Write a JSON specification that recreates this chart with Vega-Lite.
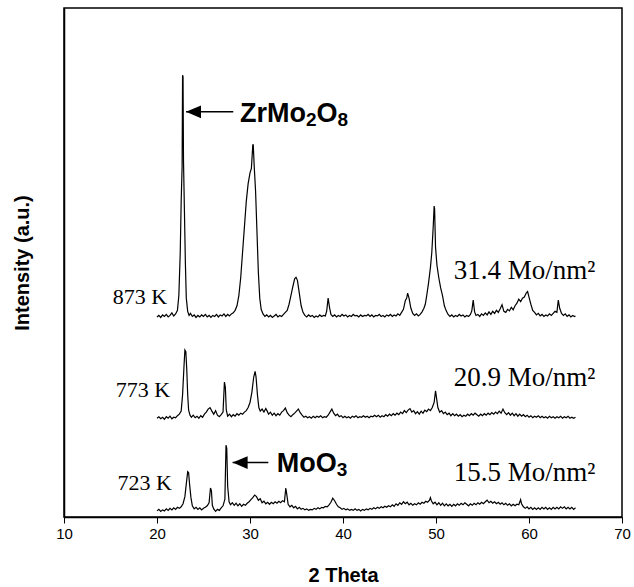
{
  "$schema": "https://vega.github.io/schema/vega-lite/v6.json",
  "width": 558,
  "height": 509,
  "autosize": "none",
  "padding": {"left": 64, "top": 8, "right": 12, "bottom": 70},
  "background": "white",
  "config": {
    "view": {"stroke": "black", "strokeWidth": 1.5},
    "axis": {"grid": false, "domainColor": "black", "domainWidth": 1.5, "tickColor": "black", "labelColor": "black", "titleColor": "black", "labelFont": "Liberation Sans", "titleFont": "Liberation Sans"}
  },
  "datasets": {
    "k873": [
      {"t":20.0,"i":39.3},{"t":20.2,"i":39.6},{"t":20.4,"i":39.2},{"t":20.6,"i":39.7},{"t":20.8,"i":39.4},{"t":21.0,"i":39.8},{"t":21.2,"i":39.3},{"t":21.4,"i":39.6},{"t":21.6,"i":40.1},{"t":21.8,"i":39.5},{"t":22.0,"i":39.9},{"t":22.2,"i":40.6},{"t":22.35,"i":43.5},{"t":22.5,"i":52.0},{"t":22.6,"i":62.0},{"t":22.7,"i":68.8},{"t":22.75,"i":86.8},{"t":22.8,"i":86.5},{"t":22.85,"i":70.0},{"t":22.95,"i":60.0},{"t":23.05,"i":50.0},{"t":23.15,"i":43.0},{"t":23.3,"i":40.4},{"t":23.45,"i":39.6},{"t":23.6,"i":40.0},{"t":23.8,"i":39.4},{"t":24.0,"i":39.7},{"t":24.2,"i":39.2},{"t":24.4,"i":39.6},{"t":24.6,"i":39.3},{"t":24.8,"i":39.7},{"t":25.0,"i":39.4},{"t":25.2,"i":39.8},{"t":25.4,"i":39.3},{"t":25.6,"i":39.6},{"t":25.8,"i":39.2},{"t":26.0,"i":39.6},{"t":26.2,"i":39.4},{"t":26.4,"i":39.8},{"t":26.6,"i":39.3},{"t":26.8,"i":39.7},{"t":27.0,"i":39.5},{"t":27.2,"i":39.9},{"t":27.4,"i":39.4},{"t":27.6,"i":39.8},{"t":27.8,"i":39.5},{"t":28.0,"i":39.9},{"t":28.2,"i":40.1},{"t":28.4,"i":40.6},{"t":28.6,"i":41.5},{"t":28.8,"i":43.5},{"t":29.0,"i":47.0},{"t":29.2,"i":52.0},{"t":29.4,"i":57.0},{"t":29.6,"i":62.0},{"t":29.8,"i":65.5},{"t":30.0,"i":67.6},{"t":30.15,"i":68.5},{"t":30.3,"i":73.1},{"t":30.35,"i":73.1},{"t":30.45,"i":69.0},{"t":30.6,"i":64.0},{"t":30.75,"i":56.0},{"t":30.9,"i":48.0},{"t":31.05,"i":43.0},{"t":31.2,"i":40.8},{"t":31.4,"i":39.9},{"t":31.6,"i":39.4},{"t":31.8,"i":39.7},{"t":32.0,"i":39.3},{"t":32.2,"i":39.6},{"t":32.4,"i":39.2},{"t":32.6,"i":39.5},{"t":32.8,"i":39.8},{"t":33.0,"i":39.3},{"t":33.2,"i":39.6},{"t":33.4,"i":39.4},{"t":33.6,"i":39.8},{"t":33.8,"i":40.2},{"t":34.0,"i":40.6},{"t":34.2,"i":41.8},{"t":34.4,"i":43.5},{"t":34.6,"i":45.2},{"t":34.8,"i":46.8},{"t":34.95,"i":47.1},{"t":35.1,"i":46.5},{"t":35.3,"i":44.0},{"t":35.5,"i":41.5},{"t":35.7,"i":40.2},{"t":35.9,"i":39.6},{"t":36.1,"i":39.3},{"t":36.3,"i":39.7},{"t":36.5,"i":39.4},{"t":36.7,"i":39.6},{"t":36.9,"i":39.2},{"t":37.1,"i":39.5},{"t":37.3,"i":39.3},{"t":37.5,"i":39.7},{"t":37.7,"i":39.4},{"t":37.9,"i":39.6},{"t":38.1,"i":39.5},{"t":38.25,"i":40.5},{"t":38.4,"i":43.0},{"t":38.55,"i":41.2},{"t":38.7,"i":39.8},{"t":38.9,"i":39.4},{"t":39.1,"i":39.7},{"t":39.3,"i":39.3},{"t":39.5,"i":39.6},{"t":39.7,"i":39.4},{"t":39.9,"i":39.8},{"t":40.1,"i":39.5},{"t":40.3,"i":39.7},{"t":40.5,"i":39.3},{"t":40.7,"i":39.6},{"t":40.9,"i":39.4},{"t":41.1,"i":39.8},{"t":41.3,"i":39.5},{"t":41.5,"i":39.6},{"t":41.7,"i":39.3},{"t":41.9,"i":39.7},{"t":42.1,"i":39.4},{"t":42.3,"i":39.6},{"t":42.5,"i":39.5},{"t":42.7,"i":39.8},{"t":42.9,"i":39.4},{"t":43.1,"i":39.7},{"t":43.3,"i":39.3},{"t":43.5,"i":39.6},{"t":43.7,"i":39.5},{"t":43.9,"i":39.8},{"t":44.1,"i":39.4},{"t":44.3,"i":39.6},{"t":44.5,"i":39.3},{"t":44.7,"i":39.7},{"t":44.9,"i":39.5},{"t":45.1,"i":39.8},{"t":45.3,"i":39.4},{"t":45.5,"i":39.7},{"t":45.7,"i":39.5},{"t":45.9,"i":39.9},{"t":46.1,"i":39.6},{"t":46.3,"i":40.2},{"t":46.5,"i":40.8},{"t":46.7,"i":42.5},{"t":46.85,"i":43.0},{"t":46.95,"i":44.0},{"t":47.1,"i":43.0},{"t":47.3,"i":41.0},{"t":47.5,"i":40.0},{"t":47.7,"i":39.6},{"t":47.9,"i":39.9},{"t":48.1,"i":39.5},{"t":48.3,"i":39.8},{"t":48.5,"i":40.3},{"t":48.7,"i":41.0},{"t":48.85,"i":41.8},{"t":49.0,"i":43.5},{"t":49.2,"i":46.0},{"t":49.4,"i":49.0},{"t":49.55,"i":52.0},{"t":49.7,"i":57.0},{"t":49.8,"i":61.1},{"t":49.85,"i":60.5},{"t":49.95,"i":53.0},{"t":50.1,"i":49.5},{"t":50.3,"i":47.0},{"t":50.5,"i":45.0},{"t":50.7,"i":43.5},{"t":50.9,"i":41.5},{"t":51.1,"i":40.5},{"t":51.3,"i":39.8},{"t":51.5,"i":39.4},{"t":51.7,"i":39.7},{"t":51.9,"i":39.3},{"t":52.1,"i":39.6},{"t":52.3,"i":39.4},{"t":52.5,"i":39.8},{"t":52.7,"i":39.5},{"t":52.9,"i":39.7},{"t":53.1,"i":39.3},{"t":53.3,"i":39.6},{"t":53.5,"i":39.4},{"t":53.7,"i":39.8},{"t":53.85,"i":40.5},{"t":54.0,"i":42.6},{"t":54.15,"i":40.3},{"t":54.3,"i":39.6},{"t":54.5,"i":39.8},{"t":54.7,"i":39.4},{"t":54.9,"i":39.9},{"t":55.1,"i":39.6},{"t":55.3,"i":40.1},{"t":55.5,"i":39.7},{"t":55.7,"i":40.3},{"t":55.9,"i":39.8},{"t":56.1,"i":40.4},{"t":56.3,"i":40.0},{"t":56.5,"i":40.6},{"t":56.7,"i":40.2},{"t":56.9,"i":40.9},{"t":57.1,"i":41.7},{"t":57.3,"i":40.4},{"t":57.5,"i":40.2},{"t":57.7,"i":40.8},{"t":57.9,"i":40.5},{"t":58.1,"i":41.2},{"t":58.3,"i":40.7},{"t":58.5,"i":41.5},{"t":58.7,"i":42.0},{"t":58.9,"i":42.8},{"t":59.1,"i":42.3},{"t":59.3,"i":43.0},{"t":59.5,"i":43.2},{"t":59.7,"i":44.0},{"t":59.85,"i":44.3},{"t":60.0,"i":43.2},{"t":60.2,"i":41.8},{"t":60.4,"i":40.6},{"t":60.6,"i":40.2},{"t":60.8,"i":39.7},{"t":61.0,"i":40.0},{"t":61.2,"i":39.5},{"t":61.4,"i":39.8},{"t":61.6,"i":39.4},{"t":61.8,"i":39.7},{"t":62.0,"i":39.5},{"t":62.2,"i":39.9},{"t":62.4,"i":39.6},{"t":62.6,"i":40.0},{"t":62.8,"i":40.4},{"t":63.0,"i":40.2},{"t":63.15,"i":42.6},{"t":63.3,"i":41.0},{"t":63.5,"i":40.0},{"t":63.7,"i":39.6},{"t":63.9,"i":39.9},{"t":64.1,"i":39.4},{"t":64.3,"i":39.7},{"t":64.5,"i":39.3},{"t":64.7,"i":39.6},{"t":64.9,"i":39.4},{"t":65.0,"i":39.5}
    ],
    "k773": [
      {"t":20.0,"i":19.4},{"t":20.2,"i":19.7},{"t":20.4,"i":19.3},{"t":20.6,"i":19.6},{"t":20.8,"i":19.2},{"t":21.0,"i":19.7},{"t":21.2,"i":19.4},{"t":21.4,"i":19.8},{"t":21.6,"i":19.3},{"t":21.8,"i":19.6},{"t":22.0,"i":19.5},{"t":22.2,"i":19.9},{"t":22.4,"i":20.2},{"t":22.6,"i":20.8},{"t":22.75,"i":24.0},{"t":22.9,"i":29.5},{"t":23.0,"i":32.8},{"t":23.1,"i":32.5},{"t":23.2,"i":29.0},{"t":23.3,"i":24.0},{"t":23.4,"i":21.0},{"t":23.55,"i":20.0},{"t":23.7,"i":19.6},{"t":23.9,"i":20.0},{"t":24.1,"i":19.5},{"t":24.3,"i":19.8},{"t":24.5,"i":19.4},{"t":24.7,"i":19.9},{"t":24.9,"i":19.6},{"t":25.1,"i":20.2},{"t":25.3,"i":20.6},{"t":25.5,"i":21.2},{"t":25.7,"i":21.5},{"t":25.9,"i":20.8},{"t":26.1,"i":20.2},{"t":26.3,"i":20.9},{"t":26.5,"i":20.0},{"t":26.7,"i":19.7},{"t":26.9,"i":20.1},{"t":27.1,"i":20.6},{"t":27.25,"i":26.5},{"t":27.35,"i":25.5},{"t":27.45,"i":21.0},{"t":27.6,"i":19.8},{"t":27.8,"i":20.2},{"t":28.0,"i":19.7},{"t":28.2,"i":20.1},{"t":28.4,"i":19.8},{"t":28.6,"i":20.3},{"t":28.8,"i":20.0},{"t":29.0,"i":20.4},{"t":29.2,"i":20.2},{"t":29.4,"i":20.6},{"t":29.6,"i":20.9},{"t":29.8,"i":21.5},{"t":30.0,"i":22.5},{"t":30.2,"i":24.5},{"t":30.4,"i":27.5},{"t":30.55,"i":28.6},{"t":30.65,"i":27.5},{"t":30.8,"i":24.0},{"t":30.95,"i":21.5},{"t":31.1,"i":20.8},{"t":31.3,"i":21.2},{"t":31.5,"i":20.6},{"t":31.7,"i":21.3},{"t":31.85,"i":20.8},{"t":32.0,"i":20.2},{"t":32.2,"i":20.6},{"t":32.4,"i":20.0},{"t":32.6,"i":20.4},{"t":32.8,"i":19.9},{"t":33.0,"i":20.3},{"t":33.2,"i":20.0},{"t":33.4,"i":20.6},{"t":33.6,"i":20.9},{"t":33.8,"i":21.4},{"t":34.0,"i":20.5},{"t":34.2,"i":20.0},{"t":34.4,"i":19.7},{"t":34.6,"i":20.1},{"t":34.8,"i":20.4},{"t":35.0,"i":20.8},{"t":35.2,"i":21.2},{"t":35.4,"i":20.5},{"t":35.6,"i":20.0},{"t":35.8,"i":19.6},{"t":36.0,"i":19.8},{"t":36.2,"i":19.5},{"t":36.4,"i":19.7},{"t":36.6,"i":19.4},{"t":36.8,"i":19.8},{"t":37.0,"i":19.5},{"t":37.2,"i":19.8},{"t":37.4,"i":19.6},{"t":37.6,"i":19.9},{"t":37.8,"i":19.5},{"t":38.0,"i":19.7},{"t":38.2,"i":19.6},{"t":38.4,"i":20.0},{"t":38.6,"i":20.6},{"t":38.8,"i":21.2},{"t":39.0,"i":20.4},{"t":39.2,"i":19.9},{"t":39.4,"i":20.2},{"t":39.6,"i":19.7},{"t":39.8,"i":19.9},{"t":40.0,"i":19.5},{"t":40.2,"i":19.8},{"t":40.4,"i":19.5},{"t":40.6,"i":19.7},{"t":40.8,"i":19.4},{"t":41.0,"i":19.8},{"t":41.2,"i":19.6},{"t":41.4,"i":19.9},{"t":41.6,"i":19.5},{"t":41.8,"i":19.7},{"t":42.0,"i":19.6},{"t":42.2,"i":19.9},{"t":42.4,"i":19.6},{"t":42.6,"i":19.8},{"t":42.8,"i":19.5},{"t":43.0,"i":19.8},{"t":43.2,"i":19.7},{"t":43.4,"i":20.0},{"t":43.6,"i":19.7},{"t":43.8,"i":20.0},{"t":44.0,"i":19.6},{"t":44.2,"i":19.9},{"t":44.4,"i":19.7},{"t":44.6,"i":20.1},{"t":44.8,"i":19.8},{"t":45.0,"i":20.2},{"t":45.2,"i":19.9},{"t":45.4,"i":20.3},{"t":45.6,"i":20.0},{"t":45.8,"i":20.4},{"t":46.0,"i":20.1},{"t":46.2,"i":20.6},{"t":46.4,"i":20.3},{"t":46.6,"i":20.9},{"t":46.8,"i":20.5},{"t":47.0,"i":21.0},{"t":47.2,"i":21.3},{"t":47.4,"i":20.6},{"t":47.6,"i":20.9},{"t":47.8,"i":20.3},{"t":48.0,"i":20.7},{"t":48.2,"i":20.2},{"t":48.4,"i":20.8},{"t":48.6,"i":20.4},{"t":48.8,"i":21.0},{"t":49.0,"i":20.7},{"t":49.2,"i":21.2},{"t":49.4,"i":20.9},{"t":49.6,"i":21.5},{"t":49.8,"i":22.5},{"t":49.95,"i":24.8},{"t":50.05,"i":23.5},{"t":50.2,"i":21.5},{"t":50.4,"i":20.6},{"t":50.6,"i":20.9},{"t":50.8,"i":20.3},{"t":51.0,"i":20.6},{"t":51.2,"i":20.1},{"t":51.4,"i":20.4},{"t":51.6,"i":19.9},{"t":51.8,"i":20.3},{"t":52.0,"i":19.9},{"t":52.2,"i":20.2},{"t":52.4,"i":19.8},{"t":52.6,"i":20.1},{"t":52.8,"i":19.7},{"t":53.0,"i":20.0},{"t":53.2,"i":19.8},{"t":53.4,"i":20.2},{"t":53.6,"i":19.9},{"t":53.8,"i":20.3},{"t":54.0,"i":20.0},{"t":54.2,"i":20.4},{"t":54.4,"i":20.1},{"t":54.6,"i":19.8},{"t":54.8,"i":20.2},{"t":55.0,"i":19.9},{"t":55.2,"i":20.3},{"t":55.4,"i":20.0},{"t":55.6,"i":20.4},{"t":55.8,"i":20.1},{"t":56.0,"i":20.5},{"t":56.2,"i":20.2},{"t":56.4,"i":20.6},{"t":56.6,"i":20.3},{"t":56.8,"i":20.8},{"t":57.0,"i":20.4},{"t":57.2,"i":21.2},{"t":57.4,"i":20.5},{"t":57.6,"i":20.1},{"t":57.8,"i":20.5},{"t":58.0,"i":20.0},{"t":58.2,"i":20.4},{"t":58.4,"i":19.9},{"t":58.6,"i":20.3},{"t":58.8,"i":19.8},{"t":59.0,"i":20.2},{"t":59.2,"i":19.8},{"t":59.4,"i":20.1},{"t":59.6,"i":19.7},{"t":59.8,"i":20.0},{"t":60.0,"i":19.6},{"t":60.2,"i":19.9},{"t":60.4,"i":19.5},{"t":60.6,"i":19.8},{"t":60.8,"i":19.6},{"t":61.0,"i":19.9},{"t":61.2,"i":19.5},{"t":61.4,"i":19.8},{"t":61.6,"i":19.5},{"t":61.8,"i":19.7},{"t":62.0,"i":19.4},{"t":62.2,"i":19.8},{"t":62.4,"i":19.5},{"t":62.6,"i":19.7},{"t":62.8,"i":19.4},{"t":63.0,"i":19.7},{"t":63.2,"i":19.5},{"t":63.4,"i":19.8},{"t":63.6,"i":19.4},{"t":63.8,"i":19.7},{"t":64.0,"i":19.5},{"t":64.2,"i":19.8},{"t":64.4,"i":19.4},{"t":64.6,"i":19.6},{"t":64.8,"i":19.4},{"t":65.0,"i":19.6}
    ],
    "k723": [
      {"t":20.0,"i":1.2},{"t":20.2,"i":1.5},{"t":20.4,"i":1.1},{"t":20.6,"i":1.4},{"t":20.8,"i":1.2},{"t":21.0,"i":1.6},{"t":21.2,"i":1.3},{"t":21.4,"i":1.7},{"t":21.6,"i":1.4},{"t":21.8,"i":1.8},{"t":22.0,"i":1.5},{"t":22.2,"i":1.9},{"t":22.4,"i":1.7},{"t":22.6,"i":2.0},{"t":22.8,"i":2.6},{"t":23.0,"i":4.0},{"t":23.15,"i":6.5},{"t":23.3,"i":8.9},{"t":23.4,"i":8.7},{"t":23.5,"i":6.5},{"t":23.65,"i":3.8},{"t":23.8,"i":2.2},{"t":24.0,"i":1.6},{"t":24.2,"i":1.9},{"t":24.4,"i":1.5},{"t":24.6,"i":1.8},{"t":24.8,"i":1.4},{"t":25.0,"i":1.7},{"t":25.2,"i":1.9},{"t":25.4,"i":2.2},{"t":25.6,"i":2.8},{"t":25.75,"i":5.7},{"t":25.85,"i":5.2},{"t":25.95,"i":2.3},{"t":26.1,"i":1.6},{"t":26.3,"i":1.1},{"t":26.5,"i":1.5},{"t":26.7,"i":1.3},{"t":26.9,"i":1.8},{"t":27.1,"i":2.2},{"t":27.3,"i":3.5},{"t":27.42,"i":14.1},{"t":27.5,"i":13.5},{"t":27.6,"i":6.0},{"t":27.75,"i":3.0},{"t":27.9,"i":2.4},{"t":28.1,"i":2.8},{"t":28.3,"i":2.3},{"t":28.5,"i":2.7},{"t":28.7,"i":2.2},{"t":28.9,"i":2.6},{"t":29.1,"i":2.1},{"t":29.3,"i":2.5},{"t":29.5,"i":2.3},{"t":29.7,"i":2.7},{"t":29.9,"i":3.0},{"t":30.1,"i":3.4},{"t":30.3,"i":3.8},{"t":30.5,"i":4.3},{"t":30.7,"i":4.0},{"t":30.9,"i":3.3},{"t":31.1,"i":3.6},{"t":31.3,"i":2.8},{"t":31.5,"i":3.1},{"t":31.7,"i":2.6},{"t":31.9,"i":2.9},{"t":32.1,"i":2.5},{"t":32.3,"i":2.9},{"t":32.5,"i":2.6},{"t":32.7,"i":3.0},{"t":32.9,"i":2.7},{"t":33.1,"i":3.1},{"t":33.3,"i":2.8},{"t":33.5,"i":3.2},{"t":33.7,"i":3.0},{"t":33.85,"i":5.7},{"t":33.95,"i":4.5},{"t":34.1,"i":2.5},{"t":34.3,"i":2.0},{"t":34.5,"i":2.3},{"t":34.7,"i":1.8},{"t":34.9,"i":2.1},{"t":35.1,"i":1.6},{"t":35.3,"i":1.9},{"t":35.5,"i":1.5},{"t":35.7,"i":1.7},{"t":35.9,"i":1.4},{"t":36.1,"i":1.6},{"t":36.3,"i":1.3},{"t":36.5,"i":1.5},{"t":36.7,"i":1.4},{"t":36.9,"i":1.7},{"t":37.1,"i":1.5},{"t":37.3,"i":1.8},{"t":37.5,"i":1.6},{"t":37.7,"i":1.9},{"t":37.9,"i":1.8},{"t":38.1,"i":2.1},{"t":38.3,"i":2.0},{"t":38.5,"i":2.4},{"t":38.7,"i":2.9},{"t":38.9,"i":3.7},{"t":39.1,"i":3.2},{"t":39.3,"i":2.5},{"t":39.5,"i":2.0},{"t":39.7,"i":1.8},{"t":39.9,"i":1.5},{"t":40.1,"i":1.7},{"t":40.3,"i":1.4},{"t":40.5,"i":1.6},{"t":40.7,"i":1.3},{"t":40.9,"i":1.5},{"t":41.1,"i":1.3},{"t":41.3,"i":1.6},{"t":41.5,"i":1.3},{"t":41.7,"i":1.5},{"t":41.9,"i":1.2},{"t":42.1,"i":1.5},{"t":42.3,"i":1.3},{"t":42.5,"i":1.6},{"t":42.7,"i":1.4},{"t":42.9,"i":1.7},{"t":43.1,"i":1.5},{"t":43.3,"i":1.8},{"t":43.5,"i":1.6},{"t":43.7,"i":1.9},{"t":43.9,"i":1.7},{"t":44.1,"i":2.0},{"t":44.3,"i":1.8},{"t":44.5,"i":2.1},{"t":44.7,"i":1.9},{"t":44.9,"i":2.2},{"t":45.1,"i":2.0},{"t":45.3,"i":2.4},{"t":45.5,"i":2.1},{"t":45.7,"i":2.6},{"t":45.9,"i":2.3},{"t":46.1,"i":2.8},{"t":46.3,"i":2.5},{"t":46.5,"i":3.0},{"t":46.7,"i":2.6},{"t":46.9,"i":2.9},{"t":47.1,"i":2.4},{"t":47.3,"i":2.7},{"t":47.5,"i":2.3},{"t":47.7,"i":2.6},{"t":47.9,"i":2.4},{"t":48.1,"i":2.8},{"t":48.3,"i":2.5},{"t":48.5,"i":2.9},{"t":48.7,"i":2.7},{"t":48.9,"i":3.1},{"t":49.1,"i":2.9},{"t":49.3,"i":3.3},{"t":49.4,"i":3.8},{"t":49.5,"i":3.2},{"t":49.7,"i":2.6},{"t":49.9,"i":2.9},{"t":50.1,"i":2.4},{"t":50.3,"i":2.8},{"t":50.5,"i":2.3},{"t":50.7,"i":2.7},{"t":50.9,"i":2.2},{"t":51.1,"i":2.6},{"t":51.3,"i":2.2},{"t":51.5,"i":2.5},{"t":51.7,"i":2.1},{"t":51.9,"i":2.5},{"t":52.1,"i":2.2},{"t":52.3,"i":2.6},{"t":52.5,"i":2.3},{"t":52.7,"i":2.7},{"t":52.9,"i":2.4},{"t":53.1,"i":2.8},{"t":53.3,"i":2.5},{"t":53.5,"i":2.2},{"t":53.7,"i":2.6},{"t":53.9,"i":2.3},{"t":54.1,"i":2.7},{"t":54.3,"i":2.4},{"t":54.5,"i":2.8},{"t":54.7,"i":2.5},{"t":54.9,"i":2.9},{"t":55.1,"i":2.6},{"t":55.3,"i":3.0},{"t":55.5,"i":3.3},{"t":55.7,"i":2.8},{"t":55.9,"i":3.1},{"t":56.1,"i":2.7},{"t":56.3,"i":3.0},{"t":56.5,"i":2.6},{"t":56.7,"i":2.9},{"t":56.9,"i":2.5},{"t":57.1,"i":2.8},{"t":57.3,"i":2.4},{"t":57.5,"i":2.7},{"t":57.7,"i":2.3},{"t":57.9,"i":2.6},{"t":58.1,"i":2.2},{"t":58.3,"i":2.5},{"t":58.5,"i":2.2},{"t":58.7,"i":2.5},{"t":58.9,"i":2.4},{"t":59.1,"i":3.4},{"t":59.2,"i":2.6},{"t":59.4,"i":2.0},{"t":59.6,"i":1.7},{"t":59.8,"i":2.0},{"t":60.0,"i":1.6},{"t":60.2,"i":1.9},{"t":60.4,"i":1.5},{"t":60.6,"i":1.8},{"t":60.8,"i":1.5},{"t":61.0,"i":1.8},{"t":61.2,"i":1.5},{"t":61.4,"i":1.9},{"t":61.6,"i":1.6},{"t":61.8,"i":1.9},{"t":62.0,"i":1.5},{"t":62.2,"i":1.8},{"t":62.4,"i":1.5},{"t":62.6,"i":1.9},{"t":62.8,"i":1.6},{"t":63.0,"i":1.9},{"t":63.2,"i":1.6},{"t":63.4,"i":2.0},{"t":63.6,"i":1.7},{"t":63.8,"i":2.0},{"t":64.0,"i":1.6},{"t":64.2,"i":1.9},{"t":64.4,"i":1.6},{"t":64.6,"i":1.9},{"t":64.8,"i":1.5},{"t":65.0,"i":1.8}
    ],
    "temps": [
      {"t":21.1,"i":43.2,"label":"873 K"},
      {"t":21.4,"i":25.0,"label":"773 K"},
      {"t":21.6,"i":6.7,"label":"723 K"}
    ],
    "loads": [
      {"t":51.9,"i":48.3,"label":"31.4 Mo/nm²"},
      {"t":51.9,"i":27.3,"label":"20.9 Mo/nm²"},
      {"t":51.9,"i":8.6,"label":"15.5 Mo/nm²"}
    ],
    "phases": [
      {"t":28.92,"i":77.7,"label":"ZrMo","sub":false},
      {"t":36.02,"i":77.7,"label":"2","sub":true},
      {"t":37.16,"i":77.7,"label":"O","sub":false},
      {"t":39.42,"i":77.7,"label":"8","sub":true},
      {"t":32.87,"i":8.8,"label":"MoO","sub":false},
      {"t":39.32,"i":8.8,"label":"3","sub":true}
    ],
    "arrows": [
      {"tip":23.12,"tail":28.2,"i":79.6},
      {"tip":28.13,"tail":31.97,"i":10.7}
    ]
  },
  "layer": [
    {
      "data": {"name": "k873"},
      "mark": {"type": "line", "color": "black", "strokeWidth": 1.2},
      "encoding": {
        "x": {"field": "t", "type": "quantitative", "scale": {"domain": [10, 70], "nice": false},
          "axis": {"values": [10, 20, 30, 40, 50, 60, 70], "title": "2 Theta", "titleFontSize": 20, "titleFontWeight": "bold", "titlePadding": 24, "labelFontSize": 15, "tickSize": 6, "labelPadding": 3, "labelFlush": false}},
        "y": {"field": "i", "type": "quantitative", "scale": {"domain": [0, 100], "nice": false},
          "axis": {"labels": false, "ticks": false, "title": "Intensity (a.u.)", "titleFontSize": 20, "titleFontWeight": "bold", "titlePadding": 32}}
      }
    },
    {
      "data": {"name": "k773"},
      "mark": {"type": "line", "color": "black", "strokeWidth": 1.2},
      "encoding": {
        "x": {"field": "t", "type": "quantitative"},
        "y": {"field": "i", "type": "quantitative"}
      }
    },
    {
      "data": {"name": "k723"},
      "mark": {"type": "line", "color": "black", "strokeWidth": 1.2},
      "encoding": {
        "x": {"field": "t", "type": "quantitative"},
        "y": {"field": "i", "type": "quantitative"}
      }
    },
    {
      "data": {"name": "temps"},
      "mark": {"type": "text", "font": "Liberation Serif", "fontSize": 22, "align": "right", "baseline": "middle", "color": "black"},
      "encoding": {
        "x": {"field": "t", "type": "quantitative"},
        "y": {"field": "i", "type": "quantitative"},
        "text": {"field": "label"}
      }
    },
    {
      "data": {"name": "loads"},
      "mark": {"type": "text", "font": "Liberation Serif", "fontSize": 27, "align": "left", "baseline": "middle", "color": "black"},
      "encoding": {
        "x": {"field": "t", "type": "quantitative"},
        "y": {"field": "i", "type": "quantitative"},
        "text": {"field": "label"}
      }
    },
    {
      "data": {"name": "phases"},
      "transform": [{"filter": "!datum.sub"}],
      "mark": {"type": "text", "font": "Liberation Sans", "fontWeight": "bold", "fontSize": 27, "align": "left", "baseline": "alphabetic", "color": "black"},
      "encoding": {
        "x": {"field": "t", "type": "quantitative"},
        "y": {"field": "i", "type": "quantitative"},
        "text": {"field": "label"}
      }
    },
    {
      "data": {"name": "phases"},
      "transform": [{"filter": "datum.sub"}],
      "mark": {"type": "text", "font": "Liberation Sans", "fontWeight": "bold", "fontSize": 19, "align": "left", "baseline": "alphabetic", "dy": 4, "color": "black"},
      "encoding": {
        "x": {"field": "t", "type": "quantitative"},
        "y": {"field": "i", "type": "quantitative"},
        "text": {"field": "label"}
      }
    },
    {
      "data": {"name": "arrows"},
      "mark": {"type": "rule", "color": "black", "strokeWidth": 1.5},
      "encoding": {
        "x": {"field": "tip", "type": "quantitative"},
        "x2": {"field": "tail"},
        "y": {"field": "i", "type": "quantitative"}
      }
    },
    {
      "data": {"name": "arrows"},
      "mark": {"type": "point", "shape": "M0,0L2,-0.85L2,0.85Z", "size": 225, "filled": true, "color": "black", "opacity": 1},
      "encoding": {
        "x": {"field": "tip", "type": "quantitative"},
        "y": {"field": "i", "type": "quantitative"}
      }
    }
  ]
}
